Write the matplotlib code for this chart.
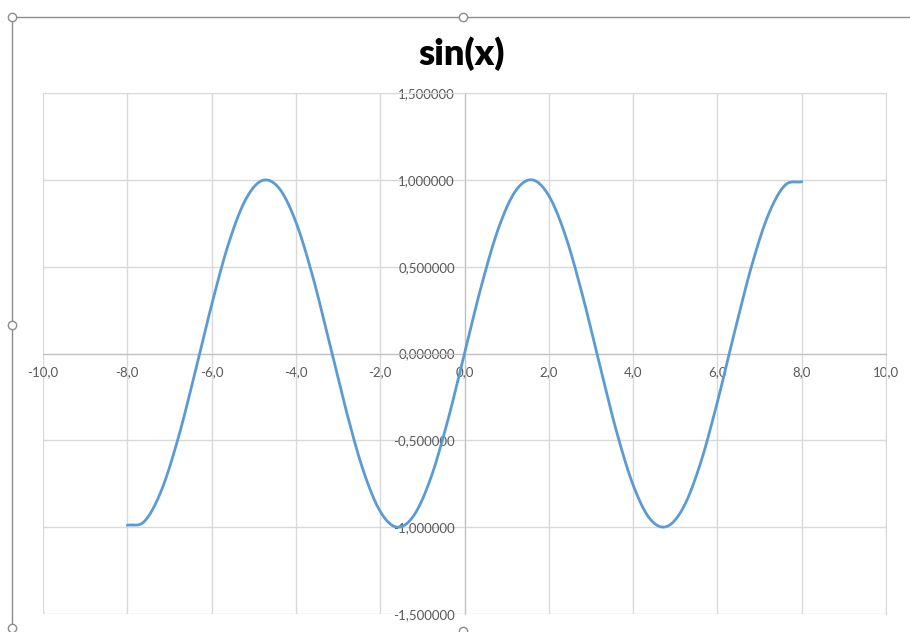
import numpy as np
import matplotlib.pyplot as plt
from matplotlib.lines import Line2D
from matplotlib.ticker import FuncFormatter, MultipleLocator

# data (points every 0.4, Excel smoothed line)
x_vals = [-8.0, -7.6, -7.2, -6.8, -6.4, -6.0, -5.6, -5.2, -4.8, -4.4, -4.0,
          -3.6, -3.2, -2.8, -2.4, -2.0, -1.6, -1.2, -0.8, -0.4, 0.0,
          0.4, 0.8, 1.2, 1.6, 2.0, 2.4, 2.8, 3.2, 3.6, 4.0,
          4.4, 4.8, 5.2, 5.6, 6.0, 6.4, 6.8, 7.2, 7.6, 8.0]
y_vals = [-0.989, -0.968, -0.794, -0.494, -0.117, 0.279, 0.631, 0.883, 0.996, 0.952, 0.757,
          0.443, 0.058, -0.335, -0.675, -0.909, -1.000, -0.932, -0.717, -0.389, 0.000,
          0.389, 0.717, 0.932, 1.000, 0.909, 0.675, 0.335, -0.058, -0.443, -0.757,
          -0.952, -0.996, -0.883, -0.631, -0.279, 0.117, 0.494, 0.794, 0.968, 0.989]
title = 'sin(x)'


def smooth(xs, ys, n=20):
    # catmull-rom like excel's smoothed line
    p = np.column_stack([xs, ys])
    p = np.vstack([2 * p[0] - p[1], p, 2 * p[-1] - p[-2]])
    out = []
    t = np.linspace(0, 1, n, endpoint=False)[:, None]
    for i in range(1, len(p) - 2):
        p0, p1, p2, p3 = p[i - 1], p[i], p[i + 1], p[i + 2]
        seg = 0.5 * ((2 * p1) + (-p0 + p2) * t + (2 * p0 - 5 * p1 + 4 * p2 - p3) * t ** 2
                     + (-p0 + 3 * p1 - 3 * p2 + p3) * t ** 3)
        out.append(seg)
    out.append(p[-2][None, :])
    out = np.vstack(out)
    return out[:, 0], out[:, 1]


W, H = 910, 632
fig = plt.figure(figsize=(W / 100, H / 100), dpi=100)
ax = fig.add_axes([43 / W, 1 - 614 / H, (886 - 43) / W, (614 - 93) / H])

grid_c = '#d9d9d9'
sx, sy = smooth(x_vals, y_vals)
ax.plot(sx, sy, color='#5b9bd5', lw=2, solid_capstyle='round', zorder=3)

ax.set_xlim(-10, 10)
ax.set_ylim(-1.5, 1.5)
ax.xaxis.set_major_locator(MultipleLocator(2))
ax.yaxis.set_major_locator(MultipleLocator(0.5))
ax.xaxis.set_major_formatter(FuncFormatter(lambda v, p: f'{v:.1f}'.replace('.', ',')))
ax.yaxis.set_major_formatter(FuncFormatter(lambda v, p: f'{v:.6f}'.replace('.', ',')))
ax.grid(True, color=grid_c, lw=1)
ax.set_axisbelow(True)

for s in ['top', 'right']:
    ax.spines[s].set_color(grid_c)
ax.spines['left'].set_position(('data', 0))
ax.spines['bottom'].set_position(('data', 0))
for s in ['left', 'bottom']:
    ax.spines[s].set_color('#bfbfbf')
ax.tick_params(length=0, labelsize=9.5, labelcolor='#595959')
ax.tick_params(axis='y', pad=7)
ax.tick_params(axis='x', pad=9)
for lab in ax.get_xticklabels() + ax.get_yticklabels():
    lab.set_fontfamily('Lato')

fig.text(462 / W, 1 - 54 / H, title, ha='center', va='center',
         fontsize=26, fontweight='heavy', family='Lato')

# chart selection frame
fig.add_artist(Line2D([12 / W, 1], [1 - 17 / H, 1 - 17 / H], color='#8c8c8c', lw=1))
fig.add_artist(Line2D([12 / W, 12 / W], [0, 1 - 17 / H], color='#8c8c8c', lw=1))
for hx, hy in [(12, 17), (463, 17), (12, 325), (12, 628), (463, 631)]:
    fig.add_artist(Line2D([hx / W], [1 - hy / H], marker='o', ms=6, mfc='white',
                          mec='#8c8c8c', mew=1))

fig.savefig('out.png', dpi=100)
